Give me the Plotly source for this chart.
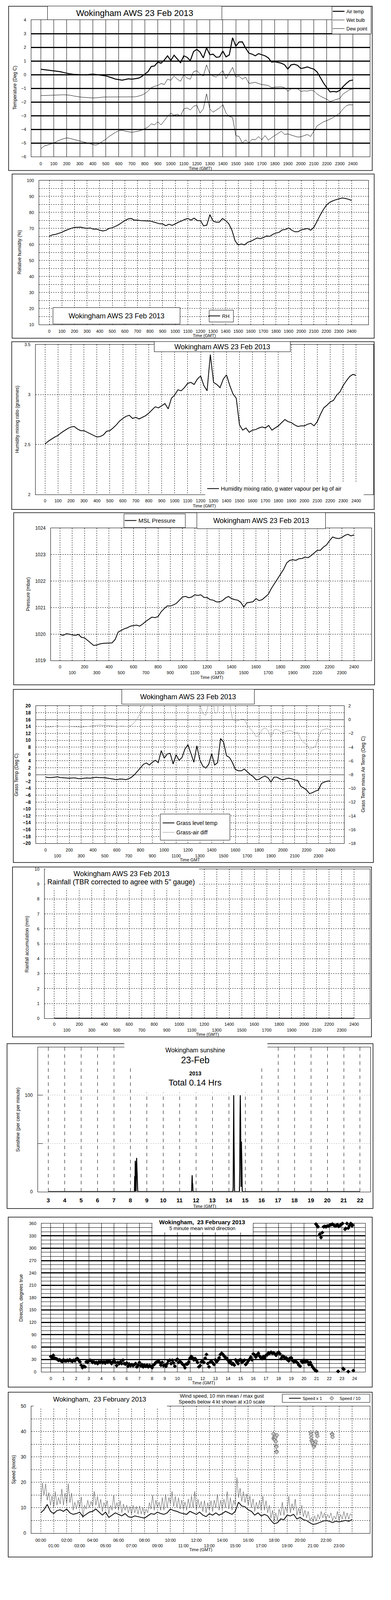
import plotly.graph_objects as go

# The page is photographed in a window whose usable height is 4096 px (screen 1000x4096) and the
# browser adds its default 8 px body margin.  All positions below are measured in the 1000x5000
# reference frame and mapped onto that visible area.
REF_H = 5000
VIEW_H = 4096
SY = VIEW_H / REF_H
BODY_MARGIN = 8
FIG_W, FIG_H = 1000 - 2 * BODY_MARGIN, VIEW_H - 2 * BODY_MARGIN
FONT = "Liberation Sans, Arial, Helvetica, sans-serif"

# ---------------- time grids and tick labels ----------------
t_hhmm = list(range(0, 2401, 25))                     # 15-minute steps, HHMM-style axis
hhmm_ticks = list(range(0, 2401, 100))
hhmm_text = [str(v) for v in hhmm_ticks]
hhmm_text_2row = [str(v) if (v // 100) % 2 == 0 else "<br>" + str(v) for v in hhmm_ticks]
sun_hour_ticks = list(range(3, 23))
hour_ticks = list(range(0, 25))
hour_text = [str(h) for h in hour_ticks]
clock_text_2row = [(f"{h:02d}:00" if h % 2 == 0 else f"<br>{h:02d}:00") if h < 24 else "" for h in hour_ticks]

# ---------------- panel 1: temperatures (deg C) ----------------
air_temp = [0.40, 0.37, 0.35, 0.33, 0.30, 0.26, 0.22, 0.16, 0.10, 0.06, 0.03, 0.02,
            0.00, -0.01, -0.02, 0.02, 0.04, 0.01, -0.02, -0.05, -0.09, -0.16, -0.25, -0.32,
            -0.36, -0.40, -0.35, -0.30, -0.33, -0.29, -0.26, -0.14, 0.04, 0.22, 0.60, 0.64,
            0.92, 0.84, 1.07, 1.38, 1.03, 1.42, 1.15, 0.88, 1.38, 1.27, 1.03, 1.69,
            1.85, 1.65, 1.23, 1.96, 1.46, 1.50, 1.27, 1.30, 1.73, 1.30, 1.45, 2.70,
            2.08, 2.39, 2.40, 1.95, 1.58, 1.50, 1.38, 1.54, 1.46, 1.38, 1.23, 0.92,
            0.95, 0.90, 0.84, 0.72, 0.41, 0.72, 0.76, 0.68, 0.45, 0.50, 0.57, 0.48,
            0.41, 0.20, -0.20, -0.62, -0.95, -1.26, -1.22, -1.26, -1.14, -0.87, -0.64, -0.44,
            -0.39]
wet_bulb = [-1.53, -1.52, -1.51, -1.50, -1.49, -1.49, -1.48, -1.47, -1.48, -1.50, -1.55, -1.60,
            -1.63, -1.65, -1.67, -1.69, -1.70, -1.69, -1.66, -1.64, -1.63, -1.63, -1.62, -1.62,
            -1.61, -1.62, -1.63, -1.63, -1.63, -1.62, -1.57, -1.50, -1.38, -1.20, -0.95, -0.85,
            -0.79, -0.64, -0.72, -0.33, -0.41, -0.09, -0.33, -0.48, 0.00, -0.25, -0.33, 0.22,
            0.29, 0.06, -0.10, 0.72, 0.06, -0.10, -0.17, 0.06, 0.30, -0.29, 0.14, 0.53,
            -0.17, -0.10, -0.33, -0.17, -0.64, -0.60, -0.56, -0.65, -0.72, -0.75, -0.79, -0.95,
            -0.91, -0.90, -0.89, -0.95, -1.22, -1.03, -1.04, -1.03, -1.22, -1.18, -1.20, -1.14,
            -1.18, -1.41, -1.57, -1.69, -1.80, -1.96, -1.88, -1.80, -1.73, -1.41, -1.26, -1.10,
            -1.04]
dew_point = [-5.42, -5.22, -5.15, -5.07, -4.99, -4.87, -4.76, -4.68, -4.62, -4.66, -4.72, -4.78,
             -4.83, -4.89, -4.95, -5.03, -5.11, -5.15, -5.03, -4.87, -4.72, -4.52, -4.37, -4.21,
             -4.10, -4.06, -4.13, -4.17, -4.21, -4.17, -4.13, -4.06, -3.94, -3.83, -3.59, -3.67,
             -3.44, -3.67, -3.36, -3.05, -2.81, -2.97, -2.89, -3.01, -2.50, -2.43, -2.58, -2.31,
             -2.23, -2.81, -2.50, -1.40, -2.50, -2.74, -2.58, -2.43, -2.19, -2.81, -3.05, -3.13,
             -4.45, -4.52, -4.99, -4.76, -4.99, -4.72, -4.76, -4.52, -4.76, -4.45, -4.79, -4.60,
             -4.45, -4.29, -4.13, -4.37, -4.33, -4.41, -4.48, -4.56, -4.54, -4.45, -4.37, -4.52,
             -4.13, -3.74, -3.59, -3.44, -3.36, -3.24, -3.13, -2.97, -2.81, -2.50, -2.27, -2.19,
             -2.21]

# ---------------- panel 2: relative humidity (%) ----------------
rel_humidity = [65.1, 66.0, 66.3, 67.0, 67.6, 68.6, 69.3, 70.1, 70.6, 70.7, 70.8, 70.3,
                70.0, 70.3, 69.5, 69.6, 68.9, 68.4, 68.8, 70.0, 70.4, 71.3, 72.3, 73.6,
                74.9, 75.9, 76.2, 75.2, 75.2, 74.9, 74.8, 74.7, 74.6, 74.1, 73.5, 72.9,
                72.8, 71.7, 72.6, 71.9, 72.8, 73.9, 74.6, 75.6, 76.2, 75.2, 76.4, 74.9,
                74.9, 71.6, 72.0, 78.6, 74.6, 73.9, 73.9, 76.2, 74.9, 72.9, 68.9, 62.3,
                59.7, 60.3, 59.7, 61.3, 62.0, 63.0, 64.0, 63.6, 64.3, 65.3, 65.0, 66.3,
                67.1, 67.6, 69.1, 69.3, 70.3, 68.9, 67.9, 67.9, 69.1, 69.5, 70.0, 68.9,
                70.6, 74.3, 78.2, 81.6, 84.5, 86.2, 87.2, 87.9, 88.5, 89.0, 88.7, 88.2,
                87.5]

# ---------------- panel 3: humidity mixing ratio (g/kg) ----------------
mixing_ratio = [2.506, 2.533, 2.554, 2.575, 2.591, 2.618, 2.639, 2.660, 2.676, 2.681, 2.655, 2.639,
                2.639, 2.623, 2.607, 2.591, 2.575, 2.580, 2.596, 2.633, 2.639, 2.666, 2.697, 2.735,
                2.761, 2.782, 2.793, 2.761, 2.772, 2.756, 2.772, 2.788, 2.814, 2.846, 2.878, 2.867,
                2.889, 2.910, 2.857, 2.963, 2.995, 3.048, 3.038, 3.069, 3.112, 3.122, 3.101, 3.155,
                3.186, 3.091, 3.038, 3.400, 3.122, 3.101, 3.069, 3.155, 3.197, 3.091, 3.006, 2.963,
                2.697, 2.644, 2.666, 2.623, 2.644, 2.650, 2.666, 2.676, 2.666, 2.692, 2.644, 2.666,
                2.687, 2.719, 2.750, 2.729, 2.719, 2.697, 2.681, 2.687, 2.687, 2.703, 2.713, 2.687,
                2.729, 2.804, 2.867, 2.894, 2.926, 2.942, 2.995, 3.027, 3.091, 3.139, 3.181, 3.202,
                3.192]

# ---------------- panel 4: MSL pressure (mbar) ----------------
msl_pressure = [1019.99, 1019.95, 1020.01, 1020.00, 1019.97, 1019.95, 1019.99, 1019.88,
                1019.86, 1019.76, 1019.66, 1019.57, 1019.59, 1019.63, 1019.65, 1019.66,
                1019.66, 1019.67, 1019.80, 1020.08, 1020.14, 1020.20, 1020.24, 1020.30,
                1020.32, 1020.34, 1020.30, 1020.38, 1020.48, 1020.56, 1020.64, 1020.62,
                1020.66, 1020.84, 1020.96, 1021.06, 1021.06, 1021.10, 1021.16, 1021.28,
                1021.40, 1021.42, 1021.37, 1021.40, 1021.48, 1021.46, 1021.48, 1021.38,
                1021.38, 1021.30, 1021.28, 1021.22, 1021.21, 1021.26, 1021.36, 1021.42,
                1021.34, 1021.30, 1021.28, 1021.20, 1021.02, 1021.18, 1021.20, 1021.22,
                1021.34, 1021.26, 1021.30, 1021.40, 1021.50, 1021.72, 1021.90, 1022.08,
                1022.28, 1022.44, 1022.68, 1022.78, 1022.80, 1022.78, 1022.84, 1022.85,
                1022.90, 1022.88, 1022.96, 1023.06, 1023.16, 1023.16, 1023.28, 1023.36,
                1023.52, 1023.66, 1023.62, 1023.60, 1023.64, 1023.72, 1023.76, 1023.70,
                1023.74]

# ---------------- panel 5: grass temperature / grass minus air ----------------
grass_temp = [-0.74, -0.84, -0.84, -0.74, -0.65, -0.84, -0.90, -0.96, -1.05, -0.96, -0.96, -1.15,
              -1.15, -1.05, -0.96, -1.05, -0.90, -0.77, -0.84, -0.90, -0.90, -1.05, -1.21, -1.30,
              -1.46, -1.27, -1.30, -1.46, -1.21, -0.74, 0.03, 1.00, 2.00, 3.00, 3.40, 2.80,
              3.60, 4.20, 3.50, 7.00, 4.80, 6.00, 6.20, 3.10, 5.80, 4.20, 5.00, 7.50,
              8.70, 6.20, 3.60, 8.40, 4.30, 2.50, 1.90, 3.00, 6.10, 2.80, 3.50, 10.50,
              9.50, 5.50, 5.00, 3.50, 1.50, 1.12, 1.12, 1.64, 0.81, 0.03, -0.59, -1.52,
              -1.36, -0.74, -0.43, -0.90, -2.14, -0.74, -0.74, -1.21, -1.52, -1.21, -1.05, -1.21,
              -1.58, -1.67, -3.38, -3.84, -4.47, -5.55, -5.24, -4.78, -4.47, -2.60, -2.14, -1.89,
              -1.83]
grass_air_diff = [-1.01, -1.08, -1.04, -1.00, -0.93, -0.98, -1.01, -0.96, -0.98, -1.00, -1.04, -1.06,
                  -1.08, -1.03, -1.01, -0.95, -0.90, -0.85, -0.78, -0.82, -0.82, -0.86, -0.88, -0.95,
                  -1.01, -0.95, -0.93, -0.98, -0.98, -0.78, -0.40, 0.23, 0.93, 1.78, 2.60, 2.20,
                  2.70, 3.40, 2.60, 5.60, 3.80, 4.60, 5.00, 2.20, 4.40, 2.90, 3.90, 5.80,
                  6.80, 4.50, 2.40, 6.40, 2.20, 0.90, 0.62, 2.50, 4.40, 0.96, 1.00, 7.80,
                  7.40, 3.10, 2.60, 0.08, -0.30, -0.12, 0.10, 0.05, -0.80, -1.32, -1.78, -2.50,
                  -2.25, -1.45, -1.20, -1.55, -2.60, -1.48, -1.42, -1.63, -1.95, -1.71, -1.60, -1.63,
                  -1.94, -1.86, -2.80, -3.30, -3.64, -4.30, -4.10, -3.90, -2.60, -1.55, -1.40, -1.32,
                  -1.50]

# ---------------- panel 6: rainfall accumulation (mm) ----------------
rain_time = list(range(0, 2401, 100))
rain_accum = [0.0] * len(rain_time)

# ---------------- panel 7: sunshine (per cent per minute) ----------------
sun_clock = ["03:00",
             "08:15", "08:16", "08:17", "08:18", "08:19", "08:20", "08:21", "08:22", "08:23",
             "08:24", "08:25", "08:26", "08:27",
             "11:44", "11:45", "11:46", "11:47", "11:48", "11:49",
             "14:15", "14:16", "14:17", "14:18", "14:19", "14:20", "14:21",
             "14:39", "14:40", "14:41", "14:42", "14:43", "14:44", "14:45", "14:46", "14:47",
             "14:48", "14:49",
             "22:00"]
sun_pct = [0,
           0, 16, 0, 32, 20, 0, 0, 28, 35, 25, 18, 12, 0,
           0, 8, 17, 8, 8, 0,
           0, 5, 52, 100, 52, 8, 0,
           0, 24, 74, 100, 75, 42, 5, 52, 40, 26, 0,
           0]
sun_hours = [int(c[:2]) + int(c[3:]) / 60 for c in sun_clock]

# ---------------- panel 8: 5-minute mean wind direction (deg) ----------------
wd_main_deg = [37, 34, 40, 33, 32, 30.5, 28, 29, 26.6, 25,
               29, 26.6, 26, 28, 26.6, 29, 26.6, 25.3, 28, 26.6,
               30.5, 32, 28, 24, 16, 10, 13.6, 12, 24, 22.7,
               26.6, 28, 26.6, 22.7, 24, 21.4, 22.7, 20, 24, 22.7,
               25.3, 22, 24, 21, 25.3, 23, 26.6, 24, 20, 24,
               29, 22.7, 15, 22.7, 20, 24, 20, 28, 20, 18.8,
               21.4, 13.6, 18.8, 15, 17.5, 15, 17.5, 20, 12, 16,
               22.7, 15, 17.5, 12, 16, 13.6, 16, 12, 15, 13.6,
               10, 16, 18.8, 22.7, 24, 26.6, 22.7, 16, 22.7, 15,
               16, 13.6, 20, 26.6, 28, 20, 28, 21.4, 13.6, 28,
               30.5, 22.7, 25.3, 22.7, 18.8, 16, 10, 18.8, 18.8, 24,
               33, 37, 34, 29, 32, 28, 22.7, 12, 15, 24,
               25.3, 22.7, 33, 42, 20, 12, 24, 25.3, 21.4, 17.5,
               29, 24, 28, 34, 42, 45, 42, 38, 34, 33,
               28, 22.7, 25.3, 18.8, 20, 16, 29, 24, 20, 28,
               29, 22.7, 25.3, 28, 17.5, 21.4, 26.6, 30.5, 35.7, 29,
               43.5, 41, 35.7, 41, 45, 38, 34, 32, 37, 34,
               40, 41, 46, 45, 47.5, 45, 46, 43.5, 40, 45,
               47.5, 43.5, 32, 38, 37, 33, 34, 29, 26.6, 33,
               34, 28, 24, 26.6, 24, 21.4, 16, 13.6, 25.3, 22.7,
               28, 24, 26.6, 24, 17.5, 22.7, 16, 11, 7, 3,
               2]
wd_main_hours = [round(i * 0.1, 1) for i in range(len(wd_main_deg))]
wd_late_hours = [20.95, 21.05, 21.1, 21.25, 21.35, 21.45, 21.55, 21.65, 21.75, 21.85,
                 21.95, 22.05, 22.15, 22.25, 22.35, 22.45, 22.55, 22.65, 22.75, 22.85,
                 22.95, 23.05, 23.25, 23.3, 23.4, 23.5, 23.6, 23.7, 23.8, 23.85,
                 22.7, 23.1, 23.15, 23.5, 23.9]
wd_late_deg = [358.6, 354.5, 352, 334, 326, 338, 352, 353, 352, 354,
               354, 356, 357, 358.6, 356, 354.5, 355, 357, 353, 355,
               358, 360, 346, 348, 360, 349, 355, 360, 354.5, 356,
               1, 8, 6, 0.5, 3]

# ---------------- panel 9: wind speed (knots) ----------------
mean_speed = [8.0, 9.2, 11.3, 8.6, 7.7, 8.9, 9.2, 8.6, 9.5, 8.0, 7.4, 7.7,
              8.3, 6.5, 7.4, 8.3, 8.6, 9.5, 8.3, 7.1, 8.3, 6.2, 7.1, 8.0,
              7.4, 6.8, 7.7, 6.5, 6.2, 6.8, 6.5, 6.2, 5.9, 6.8, 7.7, 7.4,
              8.3, 7.7, 7.4, 8.0, 9.5, 8.9, 8.6, 8.0, 7.7, 7.4, 8.6, 8.0,
              7.4, 8.3, 7.1, 6.5, 7.7, 7.1, 8.0, 7.1, 7.7, 8.6, 8.0, 7.4,
              8.6, 12.2, 10.7, 10.4, 9.2, 8.6, 7.1, 8.0, 6.8, 7.4, 6.8, 5.0,
              3.7, 4.1, 5.6, 5.3, 7.1, 6.8, 7.4, 5.6, 6.2, 5.3, 5.0, 4.1,
              3.4, 3.7, 4.2, 4.7, 5.0, 4.7, 4.2, 4.7, 4.4, 4.7, 5.0, 4.7,
              5.3]
mean_hours = [i * 0.25 for i in range(len(mean_speed))]
gust_speed = [11.5, 19.8, 15.0, 19.5, 13.0, 16.0, 11.0, 14.6,
              10.0, 16.4, 11.0, 14.0, 11.5, 17.4, 11.0, 15.8,
              11.5, 19.5, 12.0, 15.8, 9.0, 12.2, 9.5, 13.0,
              10.0, 14.3, 6.0, 11.0, 9.5, 13.0, 10.0, 12.5,
              10.5, 16.4, 11.0, 14.5, 10.0, 13.4, 8.5, 12.0,
              10.0, 12.8, 7.5, 11.0, 9.0, 15.0, 9.5, 12.0,
              9.0, 12.8, 8.0, 11.5, 9.0, 11.0, 8.0, 10.5,
              7.5, 11.0, 8.0, 10.5, 7.5, 10.7, 7.5, 10.0,
              7.0, 9.5, 8.0, 12.0, 9.5, 15.0, 9.0, 13.0,
              10.0, 12.2, 9.0, 14.0, 9.0, 15.3, 10.0, 14.0,
              11.5, 16.4, 10.5, 14.5, 10.0, 14.0, 9.5, 13.0,
              9.5, 12.2, 9.0, 13.5, 10.0, 14.6, 10.0, 16.4,
              9.0, 13.4, 10.0, 12.5, 8.5, 12.8, 8.0, 12.0,
              9.0, 12.8, 8.5, 13.0, 10.0, 15.3, 9.0, 13.0,
              9.5, 13.4, 10.0, 16.4, 9.5, 14.0, 9.0, 13.0,
              11.0, 21.9, 14.0, 17.7, 12.5, 16.4, 12.0, 15.5,
              11.0, 14.6, 10.0, 13.5, 8.5, 12.2, 9.5, 13.0,
              9.0, 14.6, 9.0, 12.8, 8.0, 11.0, 6.0, 9.0,
              4.5, 8.0, 5.0, 9.5, 7.0, 12.2, 7.0, 10.4,
              8.5, 14.6, 8.0, 11.6, 9.0, 13.4, 7.0, 9.8,
              7.5, 11.0, 6.5, 9.0, 6.0, 8.6, 5.0, 6.2,
              4.5, 6.8, 4.8, 7.4, 5.5, 8.6, 6.0, 8.0,
              5.5, 7.4, 6.0, 8.0, 5.0, 6.8, 5.5, 8.6,
              5.0, 7.4, 5.5, 8.6, 5.5, 8.0, 5.5, 7.7,
              6.8]
gust_hours = [i * 0.125 for i in range(len(gust_speed))]
low_speed_hours = [17.94, 17.96, 17.98, 18.02, 18.05, 18.08, 18.10, 18.13, 18.15, 18.17, 18.18, 18.19, 18.21,
                   20.82, 20.84, 20.86, 20.88, 20.94, 20.98, 21.04, 21.07, 21.12, 21.16, 21.20, 21.26, 21.30, 21.33,
                   22.46, 22.48, 22.50]
low_speed_x10 = [39.1, 37.2, 37.6, 38.0, 36.8, 38.5, 37.8, 36.1, 34.3, 34.0, 32.2, 31.9, 38.6,
                 39.7, 38.8, 37.6, 36.4, 36.1, 35.5, 34.6, 34.1, 34.9, 35.2, 36.1, 39.7, 39.1, 38.2,
                 39.1, 38.8, 37.9]

# =====================================================================
fig = go.Figure()


def X(rx):
    return (rx - BODY_MARGIN) / FIG_W


def Y(ry):
    return 1 - (ry * SY - BODY_MARGIN) / FIG_H


def xd(l, r):
    return [X(l), X(r)]


def yd(t, b):
    return [Y(b), Y(t)]


def tf(size=11, bold=False):
    return dict(family=FONT, size=size, color="black", weight="bold" if bold else "normal")


base_ax = dict(showline=True, linecolor="black", linewidth=1, mirror=True, zeroline=False,
               ticks="", tickangle=0, showgrid=True, gridcolor="black", gridwidth=1,
               tickfont=tf(11))


def ax(**kw):
    d = dict(base_ax)
    d.update(kw)
    return d


def rect(x0, y0, x1, y1, fill="rgba(0,0,0,0)", lw=1.5, lc="black"):
    fig.add_shape(type="rect", xref="paper", yref="paper", x0=X(x0), x1=X(x1), y0=Y(y1), y1=Y(y0),
                  line=dict(color=lc, width=lw), fillcolor=fill, layer="above")


def txt(x, y, s, size, angle=0, bold=False, box=None):
    kw = {}
    if box:
        kw = dict(bgcolor="white", bordercolor="black", borderwidth=1, borderpad=0,
                  width=box[0], height=round(box[1] * SY))
    fig.add_annotation(x=X(x), y=Y(y), xref="paper", yref="paper", text=s, showarrow=False,
                       textangle=angle, font=tf(size, bold), xanchor="center", yanchor="middle", **kw)


# ---------------- traces ----------------
fig.add_trace(go.Scatter(x=t_hhmm, y=air_temp, xaxis="x", yaxis="y", mode="lines", name="Air temp",
                         line=dict(color="black", width=2.5), legend="legend", legendgroup="a"))
fig.add_trace(go.Scatter(x=t_hhmm, y=wet_bulb, xaxis="x", yaxis="y", mode="lines", name="Wet bulb",
                         line=dict(color="black", width=1), legend="legend", legendgroup="b"))
fig.add_trace(go.Scatter(x=t_hhmm, y=dew_point, xaxis="x", yaxis="y", mode="lines", name="Dew point",
                         line=dict(color="black", width=1), legend="legend", legendgroup="c"))
fig.add_trace(go.Scatter(x=t_hhmm, y=rel_humidity, xaxis="x2", yaxis="y2", mode="lines", name="RH",
                         line=dict(color="black", width=2), legend="legend2"))
fig.add_trace(go.Scatter(x=t_hhmm, y=mixing_ratio, xaxis="x3", yaxis="y3", mode="lines",
                         name="Humidity mixing ratio, g water vapour per kg of air",
                         line=dict(color="black", width=2), legend="legend3"))
fig.add_trace(go.Scatter(x=t_hhmm, y=msl_pressure, xaxis="x4", yaxis="y4", mode="lines", name="MSL Pressure",
                         line=dict(color="black", width=2), legend="legend4"))
fig.add_trace(go.Scatter(x=t_hhmm, y=grass_temp, xaxis="x5", yaxis="y5", mode="lines", name="Grass level temp",
                         line=dict(color="black", width=2), legend="legend5", legendgroup="g1"))
fig.add_trace(go.Scatter(x=t_hhmm, y=grass_air_diff, xaxis="x5", yaxis="y10", mode="lines", name="Grass-air diff",
                         line=dict(color="#8a8a8a", width=1), legend="legend5", legendgroup="g2"))
fig.add_trace(go.Scatter(x=rain_time, y=rain_accum, xaxis="x6", yaxis="y6", mode="lines",
                         line=dict(color="black", width=3), showlegend=False, cliponaxis=False))
fig.add_trace(go.Scatter(x=sun_hours, y=sun_pct, xaxis="x7", yaxis="y7", mode="lines",
                         line=dict(color="black", width=2.5), showlegend=False, cliponaxis=False))
fig.add_trace(go.Scatter(x=wd_main_hours + wd_late_hours, y=wd_main_deg + wd_late_deg, xaxis="x8", yaxis="y8",
                         mode="markers", marker=dict(symbol="diamond", size=8, color="black"),
                         showlegend=False, cliponaxis=False))
fig.add_trace(go.Scatter(x=gust_hours, y=gust_speed, xaxis="x9", yaxis="y9", mode="lines",
                         line=dict(color="#555555", width=1), showlegend=False))
fig.add_trace(go.Scatter(x=mean_hours, y=mean_speed, xaxis="x9", yaxis="y9", mode="lines", name="Speed x 1",
                         line=dict(color="black", width=2), legend="legend6"))
fig.add_trace(go.Scatter(x=low_speed_hours, y=low_speed_x10, xaxis="x9", yaxis="y9", mode="markers",
                         name="Speed / 10",
                         marker=dict(symbol="diamond", size=8, color="#c8c8c8", line=dict(color="#333333", width=1)),
                         legend="legend6"))

# ---------------- axes ----------------
dot = dict(griddash="dot")
layout = dict(
    xaxis=ax(domain=xd(80, 946), range=[-73, 2531], anchor="y", tickmode="array", tickvals=hhmm_ticks,
             ticktext=hhmm_text, ticklabelstandoff=7),
    yaxis=ax(domain=yd(54, 483), range=[-6, 4], anchor="x", tickmode="linear", tick0=0, dtick=1, gridwidth=2.5,
             ticklabelstandoff=10),
    xaxis2=ax(domain=xd(100, 942), range=[-81, 2533], anchor="y2", tickmode="array", tickvals=hhmm_ticks,
              ticktext=hhmm_text, ticklabelstandoff=7, **dot),
    yaxis2=ax(domain=yd(557, 1009), range=[10, 100], anchor="x2", tickmode="linear", tick0=0, dtick=10,
              minor=dict(dtick=5, tick0=0, showgrid=True, gridcolor="black", griddash="dot", gridwidth=1),
              ticklabelstandoff=10, **dot),
    xaxis3=ax(domain=xd(91, 955), range=[-73, 2533], anchor="y3", tickmode="array", tickvals=hhmm_ticks,
              ticktext=hhmm_text, ticklabelstandoff=6, **dot),
    yaxis3=ax(domain=yd(1072, 1542), range=[2, 3.5], anchor="x3", tickmode="array", tickvals=[2, 2.5, 3, 3.5],
              ticktext=["2", "2.5", "3", "3.5"], ticklabelstandoff=10, **dot),
    xaxis4=ax(domain=xd(130, 950), range=[-75, 2542], anchor="y4", tickmode="array", tickvals=hhmm_ticks,
              ticktext=hhmm_text_2row, tickfont=tf(11), ticklabelstandoff=6, **dot),
    yaxis4=ax(domain=yd(1647, 2063), range=[1019, 1024], anchor="x4", tickmode="linear", tick0=1019, dtick=1,
              tickfont=tf(12), ticklabelstandoff=10, **dot),
    xaxis5=ax(domain=xd(92, 880), range=[-81, 2516], anchor="y5", tickmode="array", tickvals=hhmm_ticks,
              ticktext=hhmm_text_2row, tickfont=tf(11), ticklabelstandoff=7, **dot),
    yaxis5=ax(domain=yd(2205, 2636), range=[-20, 20], anchor="x5", tickmode="linear", tick0=0, dtick=2,
              tickfont=tf(12, True), zeroline=True, zerolinecolor="black", zerolinewidth=1,
              ticklabelstandoff=10, **dot),
    yaxis10=dict(overlaying="y5", side="right", anchor="x5", range=[-18, 2], tickmode="linear", tick0=0, dtick=2,
                 showgrid=False, showline=False, zeroline=True, zerolinecolor="black", zerolinewidth=1,
                 ticks="", tickfont=tf(11), ticklabelstandoff=10),
    xaxis6=ax(domain=xd(114, 946), range=[-78, 2526], anchor="y6", tickmode="array", tickvals=hhmm_ticks,
              ticktext=hhmm_text_2row, tickfont=tf(11), ticklabelstandoff=5, **dot),
    yaxis6=ax(domain=yd(2717, 3185), range=[0, 10], anchor="x6", tickmode="linear", tick0=0, dtick=1,
              tickfont=tf(11), ticklabelstandoff=10, **dot),
    xaxis7=ax(domain=xd(97, 947), range=[2.37, 22.62], anchor="y7", tickmode="array", tickvals=sun_hour_ticks,
              ticktext=[str(h) for h in sun_hour_ticks], tickfont=tf(15, True), griddash="dash",
              ticklabelstandoff=8),
    yaxis7=ax(domain=yd(3275, 3728), range=[0, 150], anchor="x7", tickmode="array", tickvals=[0, 50, 100],
              ticktext=["0", "", "100"], gridcolor="#b0b0b0", griddash="dot", ticks="inside", ticklen=12,
              tickcolor="black", tickfont=tf(12), ticklabelstandoff=10),
    xaxis8=ax(domain=xd(106, 934), range=[-0.74, 24.84], anchor="y8", tickmode="array", tickvals=hour_ticks,
              ticktext=hour_text, tickfont=tf(11), ticklabelstandoff=7),
    yaxis8=ax(domain=yd(3828, 4293), range=[0, 360], anchor="x8", tickmode="linear", tick0=0, dtick=30,
              gridwidth=2.5, minor=dict(dtick=10, tick0=0, showgrid=True, gridcolor="black", gridwidth=1),
              tickfont=tf(11), ticklabelstandoff=10),
    xaxis9=ax(domain=xd(80, 946), range=[-0.73, 25.38], anchor="y9", tickmode="array", tickvals=hour_ticks,
              ticktext=clock_text_2row, tickfont=tf(11), ticklabelstandoff=8, **dot),
    yaxis9=ax(domain=yd(4401, 4799), range=[0, 50], anchor="x9", tickmode="linear", tick0=0, dtick=10,
              minor=dict(dtick=5, tick0=0, showgrid=True, gridcolor="black", griddash="dot", gridwidth=1),
              tickfont=tf(12), ticklabelstandoff=10, **dot),
)

leg_common = dict(xanchor="left", yanchor="middle", bgcolor="rgba(0,0,0,0)", borderwidth=0,
                  itemwidth=30, traceorder="grouped")
layout.update(
    legend=dict(leg_common, x=X(846), y=Y(54), font=tf(12), tracegroupgap=3),
    legend2=dict(leg_common, x=X(528), y=Y(982), font=tf(13)),
    legend3=dict(leg_common, x=X(525), y=Y(1524), font=tf(14)),
    legend4=dict(leg_common, x=X(314), y=Y(1624), font=tf(15)),
    legend5=dict(leg_common, x=X(411), y=Y(2587), font=tf(14), tracegroupgap=3),
    legend6=dict(xanchor="left", yanchor="middle", bgcolor="rgba(0,0,0,0)", borderwidth=0, itemwidth=30,
                 traceorder="normal", orientation="h", x=X(734), y=Y(4376), font=tf(11)),
)

fig.update_layout(width=FIG_W, height=FIG_H, autosize=False, margin=dict(l=0, r=0, t=0, b=0),
                  paper_bgcolor="white", plot_bgcolor="white", font=dict(family=FONT, color="black"),
                  **layout)

# ---------------- panel frames, legend boxes, white masks ----------------
for b in [(22, 11, 952, 526), (31, 537, 957, 1052), (30, 1063, 957, 1589), (35, 1599, 958, 2139),
          (34, 2153, 955, 2696), (32, 2710, 950, 3243), (18, 3264, 954, 3781), (21, 3808, 952, 4341),
          (21, 4357, 952, 4874)]:
    rect(*b)

rect(849, 12, 949, 98, fill="white", lw=1)
rect(535, 964, 597, 1001, fill="white", lw=1)
rect(525, 1505, 930, 1546, fill="white", lw=0)
rect(317, 1603, 474, 1646, fill="white", lw=1)
rect(410, 2544, 588, 2626, fill="white", lw=1)
rect(722, 4363, 946, 4389, fill="white", lw=1)
rect(116, 2712, 509, 2778, fill="white", lw=0)
rect(318, 3262, 684, 3338, fill="white", lw=0)
rect(340, 3338, 664, 3417, fill="white", lw=0)
rect(390, 3812, 647, 3856, fill="white", lw=0)
rect(86, 4396, 427, 4405, fill="white", lw=0)

# ---------------- headings ----------------
TITLE = "Wokingham AWS 23 Feb 2013"
txt(344.5, 32, TITLE, 22, box=(445, 42))
txt(298, 982, TITLE, 18, box=(324, 50))
txt(568.5, 1079, TITLE, 18, box=(347, 30))
txt(668, 1624.5, TITLE, 18, box=(328, 49))
txt(481, 2176.5, TITLE, 18, box=(338, 45))
txt(310, 2731, TITLE, 18)
txt(310, 2757, "Rainfall (TBR corrected to agree with 5\" gauge)", 18)
txt(499, 3285, "Wokingham sunshine", 16)
txt(499, 3316, "23-Feb", 23)
txt(499, 3357, "2013", 14, bold=True)
txt(499, 3386, "Total 0.14 Hrs", 22)
txt(517, 3823, "Wokingham,  23 February 2013", 15, bold=True)
txt(517, 3843, "5 minute mean wind direction", 13)
txt(255, 4380, "Wokingham,  23 February 2013", 17)
txt(567, 4369, "Wind speed, 10 min mean / max gust", 13)
txt(567, 4387, "Speeds below 4 kt shown at x10 scale", 13)

for (xx, yy, s) in [(512, 519, "Time (GMT)"), (522, 1043, "Time (GMT)"), (522, 1578, "Time (GMT)"),
                    (541, 2115, "Time (GMT)"), (486, 2688, "Time GMT"), (530, 3235, "Time (GMT)"),
                    (523, 3774, "Time (GMT)"), (520, 4328, "Time (GMT)"), (513, 4851, "Time (GMT)")]:
    txt(xx, yy, s, 11)

for (xx, yy, s) in [(38, 267, "Temperature (Deg C)"), (50, 783, "Relative humidity (%)"),
                    (44, 1307, "Humidity mixing ratio (grammes)"), (72, 1855, "Pressure (mbar)"),
                    (42, 2421, "Grass Temp (Deg C)"), (929, 2420, "Grass Temp minus Air Temp (Deg C)"),
                    (69, 2953, "Rainfall accumulation (mm)"), (46, 3503, "Sunshine (per cent per minute)"),
                    (54, 4061, "Direction, degrees true"), (35, 4600, "Speed (knots)")]:
    txt(xx, yy, s, 12, angle=-90)

fig.write_html("out.html")
